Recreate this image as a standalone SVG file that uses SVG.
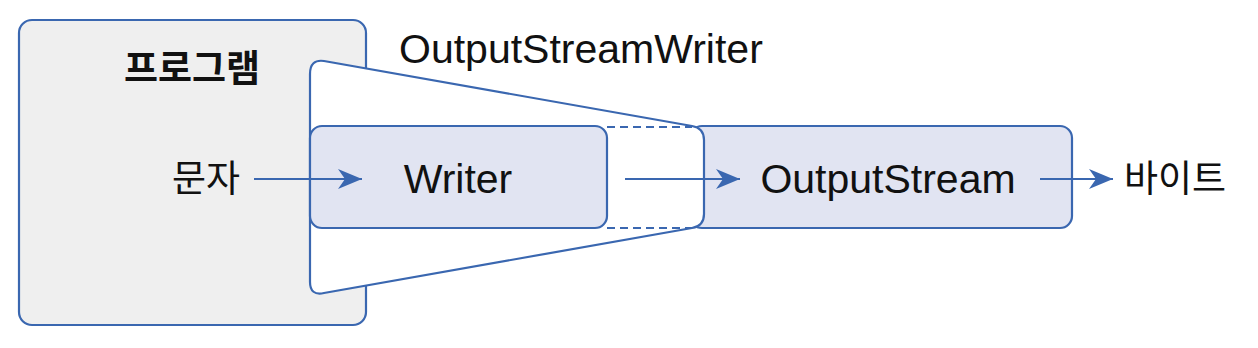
<svg xmlns="http://www.w3.org/2000/svg" width="1258" height="348" viewBox="0 0 1258 348">
<defs>
<style>
.ln{stroke:#3a67b0;stroke-width:2.2;fill:none}
.box{stroke:#3a67b0;stroke-width:2.2;fill:#e1e4f2}
.en{font-family:"Liberation Sans",Arial,sans-serif;font-size:41px;fill:#111}
.ko{font-family:"Noto Sans CJK KR","Noto Sans",sans-serif;font-size:37px;fill:#111}
</style>
<marker id="ah" viewBox="0 0 24 20" refX="24" refY="10" markerWidth="24" markerHeight="20" markerUnits="userSpaceOnUse" orient="auto">
<path d="M0,0 L24,10 L0,20 L7,10 Z" fill="#3a67b0"/>
</marker>
</defs>
<rect width="1258" height="348" fill="#fff"/>
<g id="program">
<rect x="19" y="20" width="347" height="305" rx="13" fill="#efefef" stroke="#3a67b0" stroke-width="2.2"/>
<text x="192" y="82" text-anchor="middle" class="ko" font-size="39px" font-weight="bold">프로그램</text>
<text x="240" y="192" text-anchor="end" class="ko">문자</text>
</g>
<g id="outputstream">
<rect x="690" y="126" width="382" height="102" rx="12" class="box"/>
<text x="888" y="193" text-anchor="middle" class="en">OutputStream</text>
</g>
<g id="outputstreamwriter">
<path d="M310,74 Q310,59 324,61 L692,126 Q704,128 704,140 L704,214 Q704,226 692,228 L324,293 Q310,296 310,282 Z" fill="#fff" stroke="#3a67b0" stroke-width="2.2"/>
<line x1="607" y1="127" x2="692" y2="127" class="ln" stroke-dasharray="8,5"/>
<line x1="607" y1="228" x2="692" y2="228" class="ln" stroke-dasharray="8,5"/>
<text x="399" y="63" class="en">OutputStreamWriter</text>
</g>
<g id="writer">
<rect x="310" y="126" width="297" height="102" rx="12" class="box"/>
<text x="458" y="193" text-anchor="middle" class="en">Writer</text>
</g>
<g id="bytes">
<text x="1124" y="192" class="ko">바이트</text>
</g>
<g id="connectors">
<line x1="254" y1="179" x2="362" y2="179" class="ln" marker-end="url(#ah)"/>
<line x1="625" y1="179" x2="740" y2="179" class="ln" marker-end="url(#ah)"/>
<line x1="1040" y1="179" x2="1113" y2="179" class="ln" marker-end="url(#ah)"/>
</g>
</svg>
